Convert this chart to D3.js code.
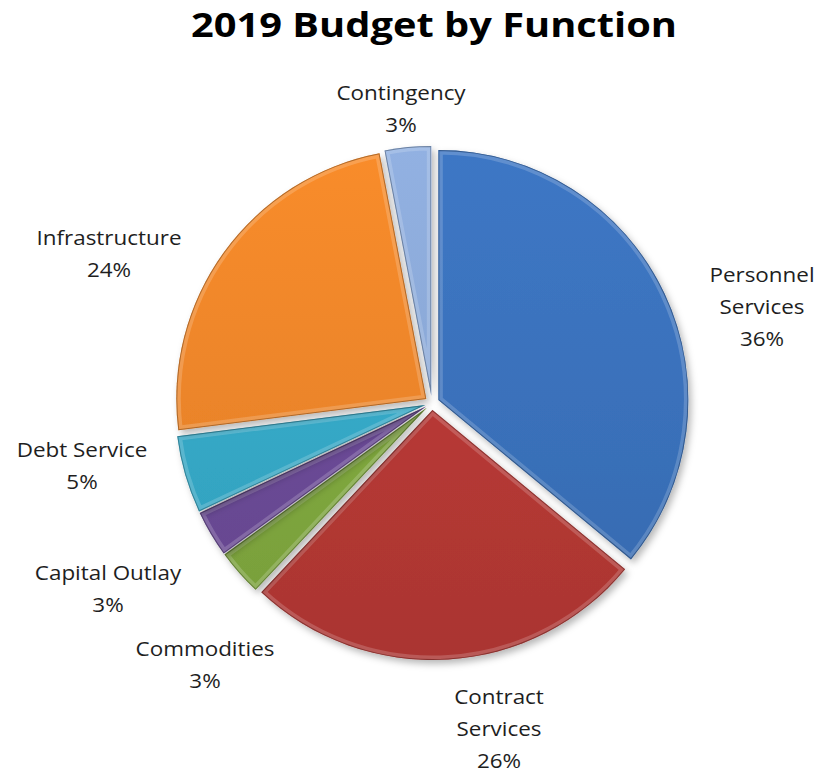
<!DOCTYPE html>
<html>
<head>
<meta charset="utf-8">
<script src="https://cdn.jsdelivr.net/npm/d3@7"></script>
<style>
  html, body { margin: 0; padding: 0; background: #fff; }
  svg { display: block; }
</style>
</head>
<body>
<svg id="chart" width="819" height="774"></svg>
<script>
// Budget shares by function, clockwise from 12 o'clock
const categories = ["Personnel Services", "Contract Services", "Commodities", "Capital Outlay", "Debt Service", "Infrastructure", "Contingency"];
const values = [36, 26, 3, 3, 5, 24, 3];
// label text as it is broken onto lines
const labelLines = [["Personnel", "Services"], ["Contract", "Services"], ["Commodities"], ["Capital Outlay"], ["Debt Service"], ["Infrastructure"], ["Contingency"]];
const sliceColors = ["#3a71bb", "#b73935", "#80a93e", "#6b4a97", "#35a9c7", "#ec8529", "#8aa8d6"];
const title = "2019 Budget by Function";

// layout
const cx = 432, cy = 403, R = 250, explode = 7;
// centre of the first label line for each slice
const labelAnchor = [[762, 282], [499, 704], [205, 656], [108, 580], [82, 457], [109, 245], [401, 100]];
const lineStep = 32;
const labelStretch = 1.15;

const svg = d3.select("#chart");
const defs = svg.append("defs");

const shadow = defs.append("filter").attr("id", "shadow")
  .attr("x", "-20%").attr("y", "-20%").attr("width", "140%").attr("height", "140%");
shadow.append("feDropShadow").attr("dx", 3).attr("dy", 4).attr("stdDeviation", 3.5)
  .attr("flood-color", "#000").attr("flood-opacity", 0.28);

const total = d3.sum(values);
const pie = d3.pie().sort(null).value(d => d.value);
const arcs = pie(categories.map((c, i) => ({ name: c, value: values[i] })));
const arc = d3.arc().innerRadius(0).outerRadius(R);

// gentle vertical light-to-dark gradient per slice across the pie's height
sliceColors.forEach((c, i) => {
  const g = defs.append("linearGradient").attr("id", "grad" + i)
    .attr("gradientUnits", "userSpaceOnUse")
    .attr("x1", 0).attr("y1", -R).attr("x2", 0).attr("y2", R);
  g.append("stop").attr("offset", "0%").attr("stop-color", d3.color(c).brighter(0.15));
  g.append("stop").attr("offset", "50%").attr("stop-color", c);
  g.append("stop").attr("offset", "100%").attr("stop-color", d3.color(c).darker(0.2));
});

arcs.forEach((a, i) => {
  defs.append("clipPath").attr("id", "clip" + i)
    .append("path").attr("d", arc(a));
});

const pieG = svg.append("g").attr("transform", `translate(${cx},${cy})`);

const slices = pieG.selectAll("g.slice").data(arcs).join("g")
  .attr("class", "slice")
  .attr("transform", d => {
    const mid = (d.startAngle + d.endAngle) / 2;
    return `translate(${explode * Math.sin(mid)},${-explode * Math.cos(mid)})`;
  });

slices.append("path")
  .attr("d", arc)
  .attr("fill", d => `url(#grad${d.index})`)
  .attr("filter", "url(#shadow)");

// bevel: soft light rim just inside the edge, then a dark outline
slices.append("path")
  .attr("d", arc)
  .attr("fill", "none")
  .attr("stroke", "#fff")
  .attr("stroke-opacity", 0.18)
  .attr("stroke-width", 9)
  .attr("clip-path", d => `url(#clip${d.index})`);
slices.append("path")
  .attr("d", arc)
  .attr("fill", "none")
  .attr("stroke", d => d3.color(sliceColors[d.index]).darker(1.2))
  .attr("stroke-opacity", 0.75)
  .attr("stroke-width", 2)
  .attr("stroke-linejoin", "round")
  .attr("clip-path", d => `url(#clip${d.index})`);

// title, widened like the condensed bold face it is set in
svg.append("text")
  .attr("x", 434).attr("y", 37)
  .attr("text-anchor", "middle")
  .attr("font-family", "'Open Sans', sans-serif")
  .attr("font-weight", 700)
  .attr("font-size", 34)
  .attr("textLength", 486)
  .attr("lengthAdjust", "spacingAndGlyphs")
  .attr("fill", "#000")
  .text(title);

// data labels: name lines then percentage
const fmt = d3.format(".0%");
const labels = svg.append("g")
  .attr("font-family", "'Open Sans', sans-serif")
  .attr("font-size", 19.5)
  .attr("fill", "#1e1e1e")
  .attr("text-anchor", "middle");

arcs.forEach((a, i) => {
  const lines = labelLines[i].concat([fmt(values[i] / total)]);
  const [lx, ly] = labelAnchor[i];
  const t = labels.append("text")
    .attr("transform", `translate(${lx},${ly}) scale(${labelStretch},1)`);
  lines.forEach((ln, k) => {
    t.append("tspan").attr("x", 0).attr("y", k * lineStep).text(ln);
  });
});
</script>
</body>
</html>
